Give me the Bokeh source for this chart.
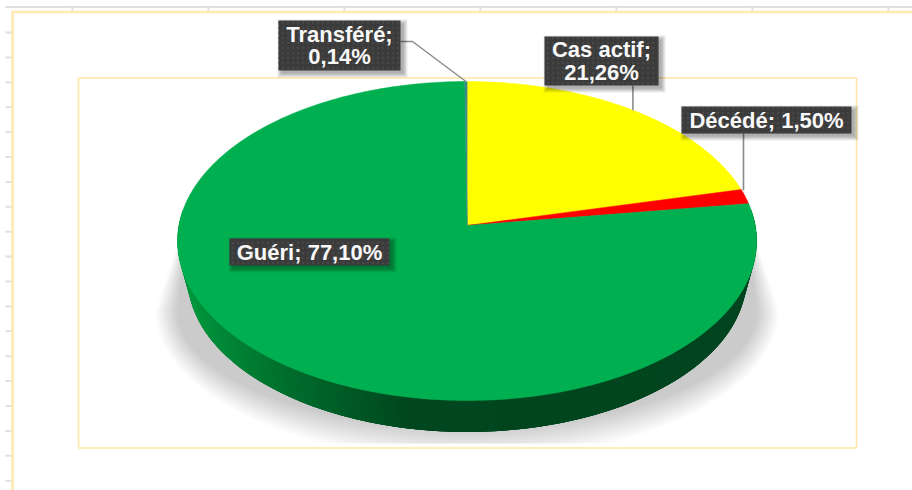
import numpy as np
from bokeh.plotting import figure
from bokeh.models import Range1d
from bokeh.core.properties import value
from bokeh.embed import file_html
from bokeh.resources import INLINE

categories = ["Cas actif", "Décédé", "Guéri", "Transféré"]
values = [21.26, 1.50, 77.10, 0.14]
value_labels = ["21,26%", "1,50%", "77,10%", "0,14%"]
colors = ["#FFFF00", "#FF0000", "#00B050", "#3A8A8A"]

label_texts = ["Cas actif;\n21,26%", "Décédé; 1,50%", "Guéri; 77,10%", "Transféré;\n0,14%"]
box_left = [544, 681, 229, 278]
box_right = [658, 851, 389, 400]
box_top = [36, 106, 238, 20]
box_bottom = [85, 133, 265, 70]

# pie projection
CX, CY, R, S, K = 466.6, 225.0, 288.2, 158.0, 0.0972
SCALE, ELL_Y, BASE_Y = 0.965, 240.0, 277.0


def rim(a):
    u, v = np.sin(a), np.cos(a)
    w = 1 + K * v
    return CX + R * u / w, CY - S * v / w


def base(a):
    x, y = rim(a)
    return CX + (x - CX) * SCALE, BASE_Y + (y - ELL_Y) * SCALE


p = figure(width=912, height=490, x_range=Range1d(0, 912), y_range=Range1d(490, 0),
           output_backend="svg", toolbar_location=None, min_border=0,
           outline_line_color=None, background_fill_color="white",
           styles={"position": "absolute", "left": "0px", "top": "0px"})
p.axis.visible = False
p.grid.visible = False

# ruler
RULER = "#E0E0E0"
p.segment([5], [6.5], [912], [6.5], line_color=RULER, line_width=2)
tx = [72, 208, 344, 480, 616, 752, 888]
p.segment(tx, [5] * 7, tx, [11] * 7, line_color=RULER, line_width=2)
ty = [32 + 24.9 * i for i in range(19)]
p.segment([5] * 19, ty, [12] * 19, ty, line_color=RULER, line_width=2)

# frames
FRAME = "#FFE9AE"
p.line([912, 12, 12], [11.5, 11.5, 490], line_color=FRAME, line_width=2.5)
p.line([78, 856, 856, 78, 78], [77.5, 77.5, 447.5, 447.5, 77.5], line_color="#FFE6A6", line_width=1.6)

# shadow
N = 26
th = np.linspace(np.pi, 0, 80)
for t in np.linspace(0, 1, N):
    rx = 312 - 22 * t
    ry = 150 - 32 * t
    sx = CX + rx * np.cos(th)
    sy = np.minimum(310 + ry * np.sin(th), 443)
    xs = np.r_[190, sx, 744]
    ys = np.r_[205, sy, 205]
    p.patch(xs, ys, fill_color="black", fill_alpha=0.0095, line_color=None)

# side wall: a solid base, then overlapping bands
stops_x = [177, 300, 425, 757]
stops_r = [0, 0, 0, 2]
stops_g = [155, 108, 70, 68]
stops_b = [62, 44, 30, 31]
aa = np.linspace(np.radians(84), np.radians(276), 130)
tx_, ty_ = rim(aa)
bx_, by_ = base(aa)
p.patch(np.r_[tx_, bx_[::-1]], np.r_[ty_, by_[::-1]], fill_color="#00461F", line_color=None)
sxs, sys, scs = [], [], []
for i in range(len(aa) - 1):
    j = min(i + 3, len(aa) - 1)
    xm = (tx_[i] + tx_[i + 1]) / 2
    c = [int(round(np.interp(xm, stops_x, s))) for s in (stops_r, stops_g, stops_b)]
    sxs.append([tx_[i], tx_[j], bx_[j], bx_[i]])
    sys.append([ty_[i], ty_[j], by_[j], by_[i]])
    scs.append("#%02x%02x%02x" % tuple(c))
# paint so that each band overlaps its neighbour, hiding the seams
p.patches(sxs[::-1], sys[::-1], fill_color=scs[::-1], line_color=None)

# top face
cum = np.cumsum([0] + values) / sum(values) * 2 * np.pi
xs_top, ys_top = [], []
for i in range(len(values)):
    n = max(4, int(values[i] * 4))
    a = np.linspace(cum[i], cum[i + 1], n)
    x, y = rim(a)
    xs_top.append(np.r_[CX, x].tolist())
    ys_top.append(np.r_[CY, y].tolist())
p.patches(xs_top, ys_top, fill_color=colors, line_color=colors, line_width=0.5)

# leader lines
LEAD = "#8A8A8A"
mid = (cum[:-1] + cum[1:]) / 2
mx, my = rim(mid)
p.line([mx[0], mx[0]], [box_bottom[0], my[0]], line_color=LEAD, line_width=1.6)
p.line([743, 743], [box_bottom[1], 190], line_color=LEAD, line_width=1.6)
p.line([box_right[3], 412, mx[3]], [41, 41, my[3]], line_color=LEAD, line_width=1.4)

# label boxes
for grow in [4, 3, 2, 1, 0]:
    p.quad(left=[l + 3 - grow for l in box_left], right=[r + 3 + grow for r in box_right],
           top=[t + 3 - grow for t in box_top], bottom=[b + 3 + grow for b in box_bottom],
           fill_color="black", fill_alpha=0.07, line_color=None)
p.quad(left=box_left, right=box_right, top=box_top, bottom=box_bottom,
       fill_color="#3B3B3B", line_color=None, hatch_pattern="dot", hatch_color="#474747",
       hatch_scale=5, hatch_weight=1)

tx_c = [(l + r) / 2 for l, r in zip(box_left, box_right)]
ty_c = [(t + b) / 2 for t, b in zip(box_top, box_bottom)]
p.text(tx_c, ty_c, text=label_texts, text_color="#F8F8F8", text_font=value("Liberation Sans"),
       text_font_style="bold", text_font_size="22px", text_align="center", text_baseline="middle",
       text_line_height=0.9)

open("out.html", "w").write(file_html(p, INLINE))
